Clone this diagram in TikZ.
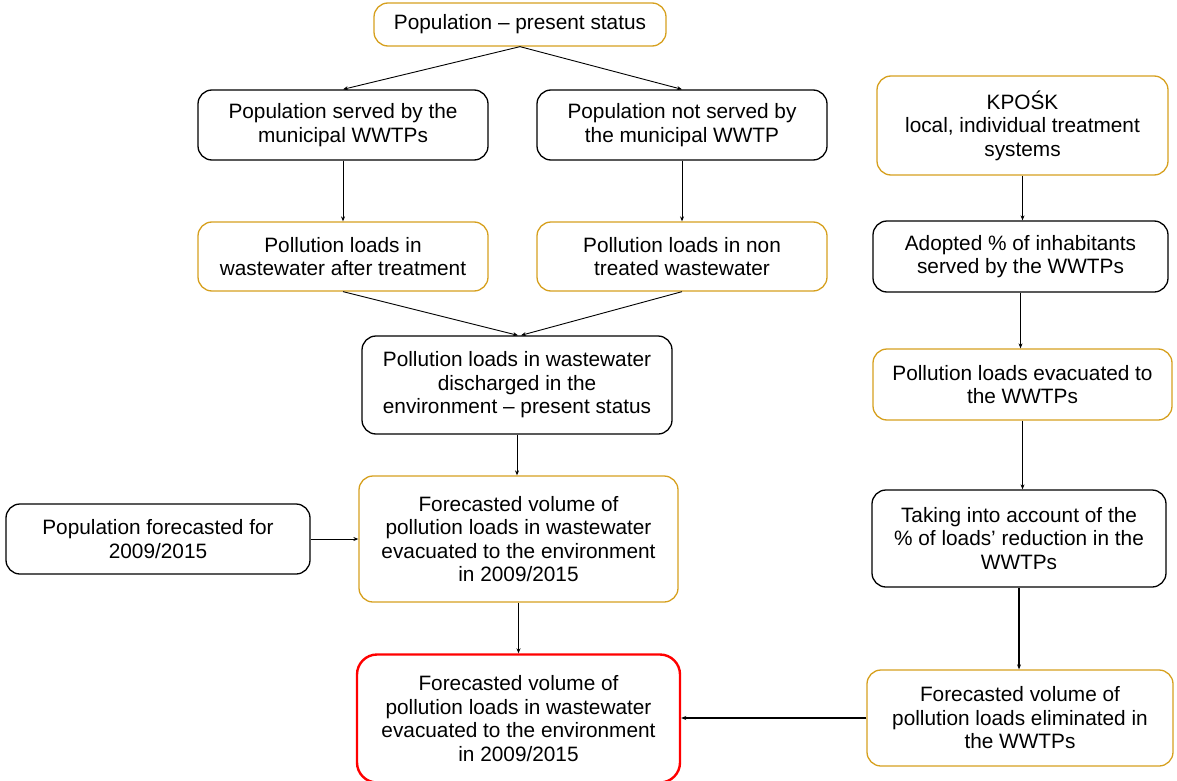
\documentclass[tikz,border=0pt]{standalone}
\usepackage{fontspec}
\setmainfont{Liberation Sans}
\usetikzlibrary{arrows.meta}
\definecolor{boxgold}{RGB}{214,160,30}
\definecolor{boxred}{RGB}{255,0,0}
\begin{document}
\begin{tikzpicture}[x=1pt,y=-1pt,
  every node/.style={font=\fontsize{20.8}{23.5}\selectfont, align=center, inner sep=0pt},
  basebox/.style={draw, rounded corners=14pt, line width=1.3pt},
  blackbox/.style={basebox, draw=black},
  goldbox/.style={basebox, draw=boxgold},
  redbox/.style={basebox, draw=boxred, line width=2.4pt, rounded corners=20pt},
  link/.style={draw=black, line width=0.9pt, -{Stealth[length=5pt,width=4pt]}},
  thicklink/.style={link, line width=1.3pt}]
\useasboundingbox (0,0) rectangle (1177,781);

% left / middle column
\node[goldbox, minimum width=292pt, minimum height=43pt] (pop) at (520,24.5) {Population -- present status};
\node[blackbox, minimum width=290pt, minimum height=70pt] (served) at (343,125) {Population served by the\\municipal WWTPs};
\node[blackbox, minimum width=290pt, minimum height=70pt] (notserved) at (682,125) {Population not served by\\the municipal WWTP};
\node[goldbox, minimum width=290pt, minimum height=69pt] (after) at (343,256.5) {Pollution loads in\\wastewater after treatment};
\node[goldbox, minimum width=290pt, minimum height=69pt] (nontreated) at (682,256.5) {Pollution loads in non\\treated wastewater};
\node[blackbox, minimum width=310pt, minimum height=98pt] (discharged) at (517,385) {Pollution loads in wastewater\\discharged in the\\environment -- present status};
\node[blackbox, minimum width=304pt, minimum height=70pt] (popfc) at (158,539) {Population forecasted for\\2009/2015};
\node[goldbox, minimum width=319pt, minimum height=126pt] (fcvol) at (518.5,539) {Forecasted volume of\\pollution loads in wastewater\\evacuated to the environment\\in 2009/2015};
\node[redbox, minimum width=323pt, minimum height=128pt] (final) at (518.5,718.5) {Forecasted volume of\\pollution loads in wastewater\\evacuated to the environment\\in 2009/2015};

% right column
\node[goldbox, minimum width=291pt, minimum height=99pt] (kposk) at (1022.5,125.5) {KPOŚK\\local, individual treatment\\systems};
\node[blackbox, minimum width=295pt, minimum height=71pt] (adopted) at (1020.5,256.5) {Adopted \% of inhabitants\\served by the WWTPs};
\node[goldbox, minimum width=299pt, minimum height=71pt] (evac) at (1022.5,384.5) {Pollution loads evacuated to\\the WWTPs};
\node[blackbox, minimum width=294pt, minimum height=97pt] (reduction) at (1019,538.5) {Taking into account of the\\\% of loads' reduction in the\\WWTPs};
\node[goldbox, minimum width=306pt, minimum height=96pt] (elim) at (1020,718) {Forecasted volume of\\pollution loads eliminated in\\the WWTPs};

% connectors
\draw[link] (pop.south) -- (served.north);
\draw[link] (pop.south) -- (notserved.north);
\draw[link] (served.south) -- (after.north);
\draw[link] (notserved.south) -- (nontreated.north);
\draw[link] (after.south) -- ([xshift=1pt]discharged.north);
\draw[link] (nontreated.south) -- ([xshift=4pt]discharged.north);
\draw[link] (discharged.south) -- (discharged.south |- fcvol.north);
\draw[link] (popfc.east) -- (popfc.east -| fcvol.west);
\draw[link] (fcvol.south) -- (fcvol.south |- final.north);

\draw[thicklink] (kposk.south) -- (kposk.south |- adopted.north);
\draw[thicklink] (adopted.south) -- (adopted.south |- evac.north);
\draw[thicklink] (evac.south) -- (evac.south |- reduction.north);
\draw[thicklink] (reduction.south) -- (reduction.south |- elim.north);
\draw[thicklink] (elim.west) -- (elim.west -| final.east);
\end{tikzpicture}
\end{document}
